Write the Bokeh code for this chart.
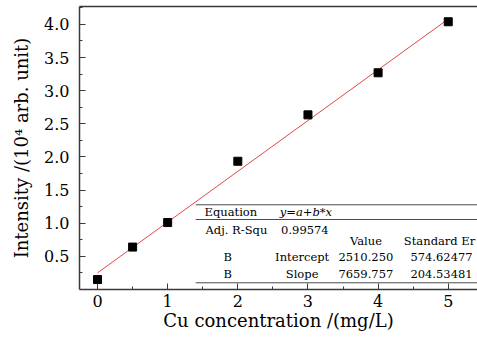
from bokeh.plotting import figure
from bokeh.models import FixedTicker, LinearAxis, Range1d, Label
from bokeh.embed import file_html
from bokeh.resources import INLINE
import numpy as np

# Cu calibration data (intensity in units of 10^4 arb. unit)
cu_conc = [0, 0.5, 1, 2, 3, 4, 5]
intensity = [0.15, 0.64, 1.01, 1.935, 2.635, 3.27, 4.04]

# Linear fit results (y = a + b*x, raw intensity units)
fit_intercept = 2510.250
fit_slope = 7659.757
fit_intercept_err = 574.62477
fit_slope_err = 204.53481
adj_r2 = 0.99574

x_ticks = [0, 1, 2, 3, 4, 5]
x_minor = [0.5, 1.5, 2.5, 3.5, 4.5]
y_ticks = [0.5, 1.0, 1.5, 2.0, 2.5, 3.0, 3.5, 4.0]
y_minor = [0.25, 0.75, 1.25, 1.75, 2.25, 2.75, 3.25, 3.75, 4.25]

FONT = "DejaVu Serif"
AXIS_COLOR = "#3a3a3a"

p = figure(width=477, height=338, output_backend="svg", toolbar_location=None,
           x_range=Range1d(-0.257, 5.417), y_range=Range1d(0, 4.27),
           min_border_left=79, min_border_top=6, min_border_bottom=49,
           min_border_right=0)
p.background_fill_color = "white"
p.border_fill_color = "white"
p.outline_line_color = None
p.grid.visible = False

for ax, ticks, minor in ((p.xaxis[0], x_ticks, x_minor), (p.yaxis[0], y_ticks, y_minor)):
    ax.ticker = FixedTicker(ticks=ticks, minor_ticks=minor)
    ax.axis_line_color = AXIS_COLOR
    ax.axis_line_width = 1.5
    ax.major_tick_line_color = AXIS_COLOR
    ax.minor_tick_line_color = AXIS_COLOR
    ax.major_tick_in = 6
    ax.major_tick_out = 0
    ax.minor_tick_in = 3
    ax.minor_tick_out = 0
    ax.major_label_text_font = FONT
    ax.major_label_text_font_size = "16px"
    ax.major_label_text_color = "black"
    ax.axis_label_text_font = FONT
    ax.axis_label_text_font_size = "18px"
    ax.axis_label_text_font_style = "normal"
    ax.axis_label_text_color = "black"

p.xaxis.axis_label = "Cu concentration /(mg/L)"
p.yaxis.axis_label = "Intensity /(10\u2074 arb. unit)"
p.xaxis.major_label_standoff = 5
p.xaxis.axis_label_standoff = 0
p.yaxis.major_label_standoff = 10
p.yaxis.axis_label_standoff = 9
p.yaxis.major_label_overrides = {t: f"{t:.1f}" for t in y_ticks}

# plain line along the top of the frame
top = LinearAxis(ticker=FixedTicker(ticks=[]), axis_line_color=AXIS_COLOR,
                 axis_line_width=1.5, major_tick_in=0, major_tick_out=0,
                 minor_tick_in=0, minor_tick_out=0)
p.add_layout(top, "above")

# fitted line
fx = np.array([cu_conc[0], cu_conc[-1]])
fy = (fit_intercept + fit_slope * fx) / 1e4
p.line(fx, fy, line_color="#e0474c", line_width=1)

p.scatter(cu_conc, intensity, marker="square", size=8,
          fill_color="black", line_color="black")

# fit summary table
tx0, tx1 = 1.40, 5.417
for yy in (1.278, 1.056, 0.101):
    p.segment(x0=[tx0], y0=[yy], x1=[tx1], y1=[yy], line_color="#4a4a4a", line_width=1)

cells = [
    ("Equation", 1.525, 1.166, "left", "normal"),
    ("y=a+b*x", 2.599, 1.166, "left", "italic"),
    ("Adj. R-Squ", 1.540, 0.905, "left", "normal"),
    (f"{adj_r2:.5f}", 2.617, 0.905, "left", "normal"),
    ("Value", 3.827, 0.729, "center", "normal"),
    ("Standard Er", 5.385, 0.729, "right", "normal"),
    ("B", 1.857, 0.487, "center", "normal"),
    ("Intercept", 2.917, 0.487, "center", "normal"),
    (f"{fit_intercept:.3f}", 3.825, 0.487, "center", "normal"),
    (f"{fit_intercept_err:.5f}", 4.904, 0.487, "center", "normal"),
    ("B", 1.857, 0.237, "center", "normal"),
    ("Slope", 2.917, 0.237, "center", "normal"),
    (f"{fit_slope:.3f}", 3.825, 0.237, "center", "normal"),
    (f"{fit_slope_err:.5f}", 4.904, 0.237, "center", "normal"),
]
for txt, x, y, align, style in cells:
    p.add_layout(Label(x=x, y=y, text=txt, text_align=align, text_baseline="middle",
                       text_font=FONT, text_font_size="11.5px", text_font_style=style,
                       text_color="black"))

open("out.html", "w").write(file_html(p, INLINE))
